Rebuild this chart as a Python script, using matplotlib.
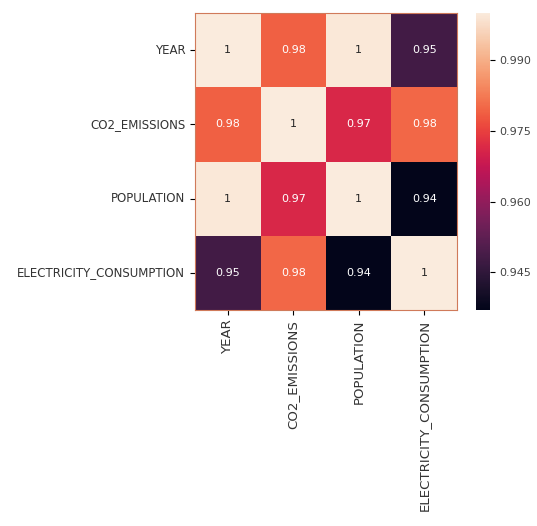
import numpy as np
import matplotlib
matplotlib.use("Agg")
import matplotlib.pyplot as plt
import seaborn as sns

labels = ["YEAR", "CO2_EMISSIONS", "POPULATION", "ELECTRICITY_CONSUMPTION"]
row_year = [1.0, 0.979, 0.9995, 0.948]
row_co2 = [0.979, 1.0, 0.971, 0.980]
row_pop = [0.9995, 0.971, 1.0, 0.937]
row_elec = [0.948, 0.980, 0.937, 1.0]
cbar_ticks = [0.945, 0.960, 0.975, 0.990]

corr = np.array([row_year, row_co2, row_pop, row_elec])

fig = plt.figure(figsize=(5.37, 5.26), dpi=100)
ax = fig.add_axes([195/537, 1-310/526, 262/537, 297/526])
cax = fig.add_axes([476/537, 1-310/526, 14/537, 297/526])

sns.heatmap(corr, annot=True, ax=ax, cbar_ax=cax, cmap="rocket",
            xticklabels=labels, yticklabels=labels,
            annot_kws={"size": 8})
ax.set_yticklabels(labels, rotation=0, fontsize=8.5, color="#333333")
ax.set_xticklabels(labels, rotation=90, fontsize=9.6, color="#333333")
for s in ax.spines.values():
    s.set_visible(True)
    s.set_color("#d07a5a")
    s.set_linewidth(0.8)
cax.set_yticks(cbar_ticks)
cax.set_yticklabels([f"{t:.3f}" for t in cbar_ticks], color="#444444")
cax.tick_params(labelsize=8)

fig.savefig("out.png", dpi=100)
